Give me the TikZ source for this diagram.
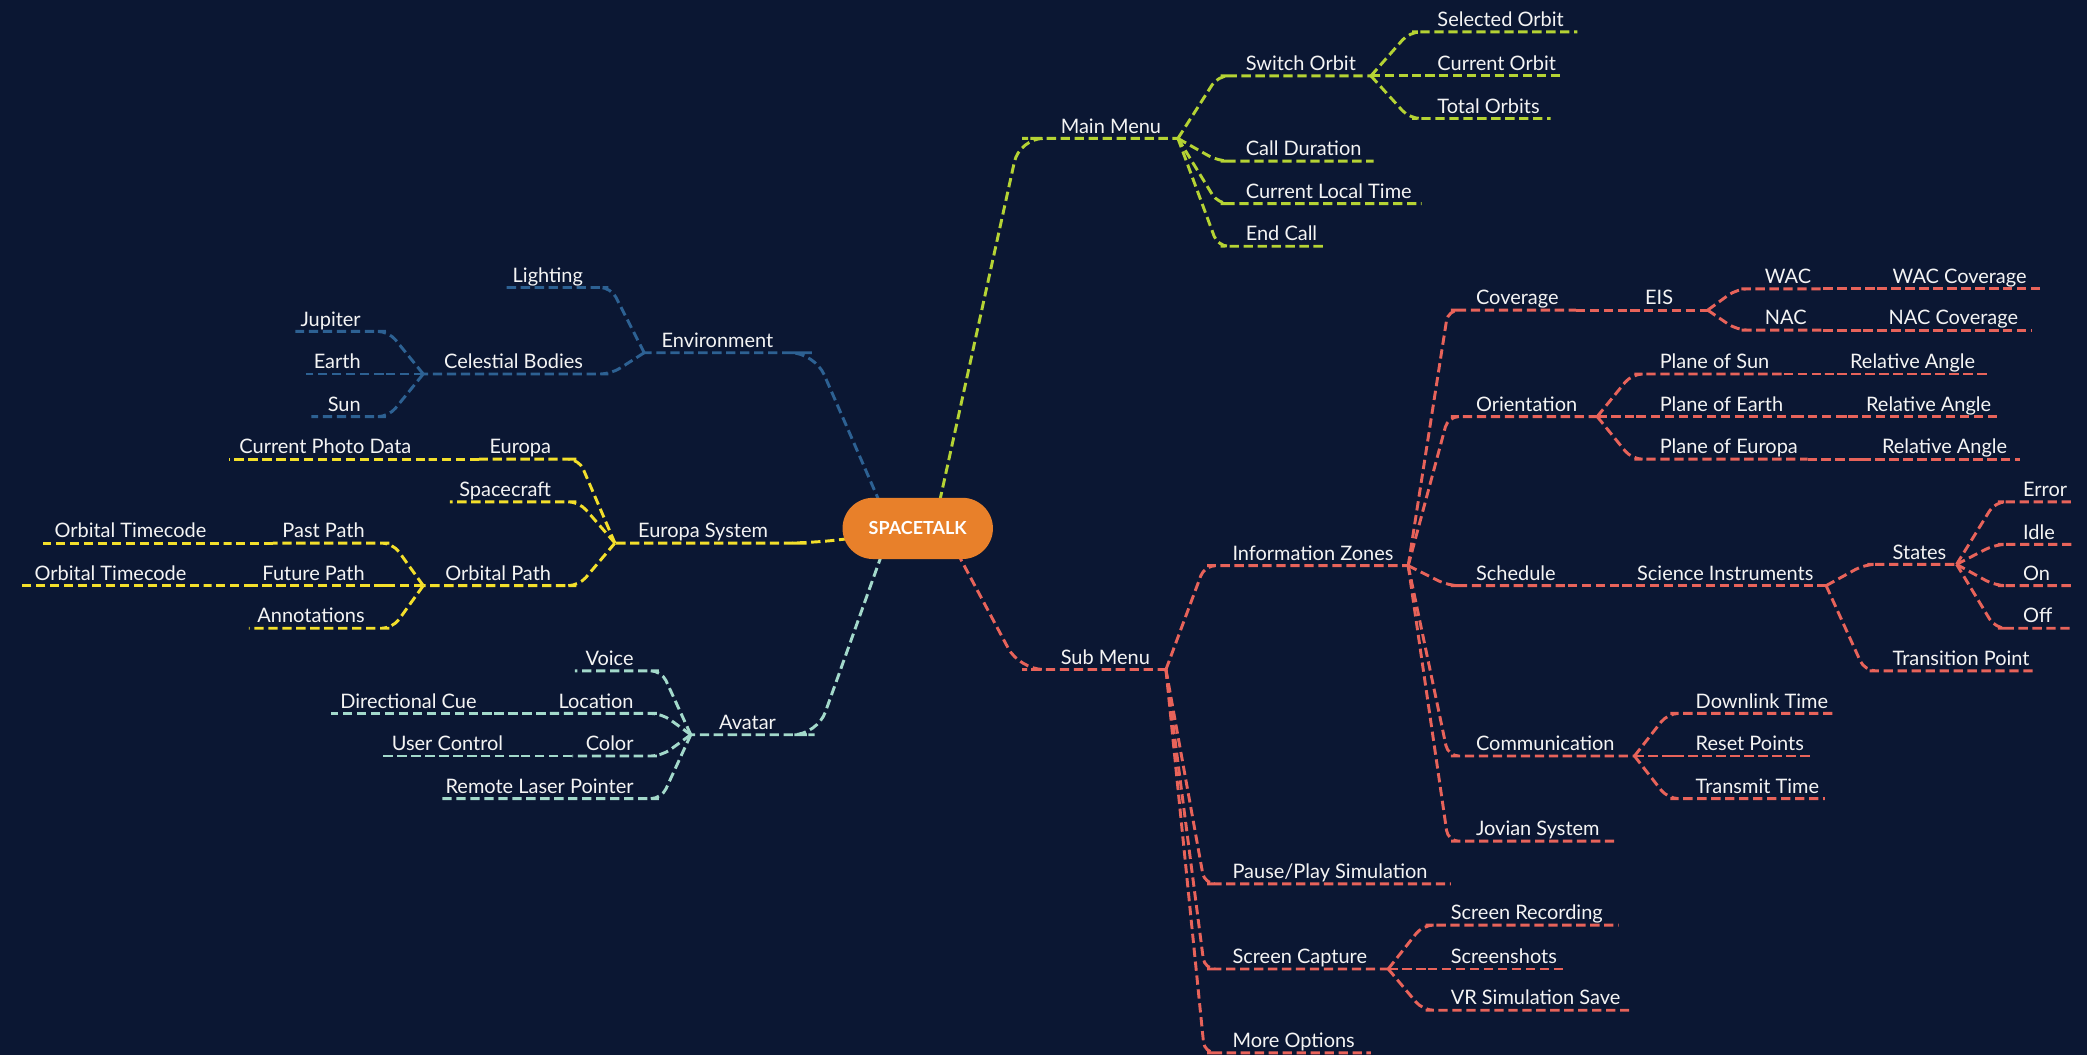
\documentclass[tikz,border=0pt]{standalone}
\usepackage{fontspec}
\setmainfont{Lato}
\definecolor{bgc}{HTML}{0B1733}
\definecolor{cgreen}{HTML}{B5D334}
\definecolor{cblue}{HTML}{2D6193}
\definecolor{cyellow}{HTML}{F3DF2B}
\definecolor{cteal}{HTML}{A3D9CB}
\definecolor{cred}{HTML}{E8635A}
\definecolor{corange}{HTML}{E8802A}
\definecolor{ctext}{HTML}{F4F4F4}
\pgfdeclarelayer{bgfill}
\pgfdeclarelayer{bglines}
\pgfsetlayers{bgfill,bglines,main}
\newcommand\rtxt[2]{\makebox[#1pt][l]{\hspace*{11pt}#2}}
\newcommand\ltxt[2]{\makebox[#1pt][r]{#2\hspace*{11pt}}}
% right-side link: parent east end -> child west end, then along child underline
\newcommand\rlink[3]{\draw[#1] (#2.south east) -- ([xshift=-10pt]#3.south west) -- (#3.south west) -- (#3.south east);}
% left-side link
\newcommand\llink[3]{\draw[#1] (#2.south west) -- ([xshift=10pt]#3.south east) -- (#3.south east) -- (#3.south west);}
\begin{document}
\begin{tikzpicture}[x=1pt,y=-1pt,
  topic/.style={inner xsep=0pt, inner ysep=1pt, text height=12pt, text depth=3pt,
    outer sep=0pt, text=ctext, font=\fontsize{15}{18}\selectfont},
  rtopic/.style={topic, anchor=south west},
  ltopic/.style={topic, anchor=south east},
  link/.style={line width=2.2pt, dash pattern=on 7pt off 3.5pt, rounded corners=8pt},
  glink/.style={link, draw=cgreen},
  blink/.style={link, draw=cblue},
  ylink/.style={link, draw=cyellow},
  tlink/.style={link, draw=cteal},
  rlink/.style={link, draw=cred},
  mainlink/.style={rounded corners=18pt},
  centerbox/.style={fill=corange, rounded corners=23pt, minimum width=113pt,
    minimum height=46pt, text=white, inner sep=0pt,
    font=\fontsize{13.5}{15}\selectfont\bfseries}
]
\begin{pgfonlayer}{bgfill}
\fill[bgc] (0,0) rectangle (1568,793);
\end{pgfonlayer}
\useasboundingbox (0,0) rectangle (1568,793);

% ---------- centre ----------
\node[centerbox] (c) at (689.5,397) {SPACETALK};

% ---------- Main Menu (green) ----------
\node[rtopic] (mm)  at (786,104)  {\rtxt{99}{Main Menu}};
\node[rtopic] (so)  at (925,57)   {\rtxt{105}{Switch Orbit}};
\node[rtopic] (sel) at (1069,24)  {\rtxt{116}{Selected Orbit}};
\node[rtopic] (cur) at (1069,57)  {\rtxt{103}{Current Orbit}};
\node[rtopic] (tot) at (1069,89)  {\rtxt{96}{Total Orbits}};
\node[rtopic] (cd)  at (925,121)  {\rtxt{107}{Call Duration}};
\node[rtopic] (clt) at (925,153)  {\rtxt{143}{Current Local Time}};
\node[rtopic] (ec)  at (925,185)  {\rtxt{72}{End Call}};

% ---------- Sub Menu (red) ----------
\node[rtopic] (sm)   at (786,503)  {\rtxt{90}{Sub Menu}};
\node[rtopic] (iz)   at (915,425)  {\rtxt{143}{Information Zones}};
\node[rtopic] (cov)  at (1098,233) {\rtxt{86}{Coverage}};
\node[rtopic] (eis)  at (1225,233) {\rtxt{58}{EIS}};
\node[rtopic] (wac)  at (1315,217) {\rtxt{55}{WAC}};
\node[rtopic] (wacc) at (1411,217) {\rtxt{124}{WAC Coverage}};
\node[rtopic] (nac)  at (1315,248) {\rtxt{55}{NAC}};
\node[rtopic] (nacc) at (1408,248) {\rtxt{119}{NAC Coverage}};
\node[rtopic] (ori)  at (1098,313) {\rtxt{102}{Orientation}};
\node[rtopic] (pos)  at (1236,281) {\rtxt{104}{Plane of Sun}};
\node[rtopic] (ra1)  at (1379,281) {\rtxt{116}{Relative Angle}};
\node[rtopic] (poe)  at (1236,313) {\rtxt{112}{Plane of Earth}};
\node[rtopic] (ra2)  at (1391,313) {\rtxt{112}{Relative Angle}};
\node[rtopic] (poeu) at (1236,345) {\rtxt{122}{Plane of Europa}};
\node[rtopic] (ra3)  at (1403,345) {\rtxt{115}{Relative Angle}};
\node[rtopic] (sch)  at (1098,440) {\rtxt{80}{Schedule}};
\node[rtopic] (sci)  at (1219,440) {\rtxt{153}{Science Instruments}};
\node[rtopic] (st)   at (1411,424) {\rtxt{59}{States}};
\node[rtopic] (err)  at (1509,377) {\rtxt{48}{Error}};
\node[rtopic] (idle) at (1509,409) {\rtxt{48}{Idle}};
\node[rtopic] (on)   at (1509,440) {\rtxt{48}{On}};
\node[rtopic] (off)  at (1509,472) {\rtxt{48}{Off}};
\node[rtopic] (tp)   at (1411,504) {\rtxt{118}{Transition Point}};
\node[rtopic] (com)  at (1098,568) {\rtxt{130}{Communication}};
\node[rtopic] (dl)   at (1263,536) {\rtxt{117}{Downlink Time}};
\node[rtopic] (rp)   at (1263,568) {\rtxt{99}{Reset Points}};
\node[rtopic] (tt)   at (1263,600) {\rtxt{108}{Transmit Time}};
\node[rtopic] (jov)  at (1098,632) {\rtxt{117}{Jovian System}};
\node[rtopic] (pp)   at (915,664)  {\rtxt{175}{Pause/Play Simulation}};
\node[rtopic] (scap) at (915,728)  {\rtxt{128}{Screen Capture}};
\node[rtopic] (sr)   at (1079,695) {\rtxt{137}{Screen Recording}};
\node[rtopic] (ss)   at (1079,728) {\rtxt{96}{Screenshots}};
\node[rtopic] (vr)   at (1079,759) {\rtxt{145}{VR Simulation Save}};
\node[rtopic] (mo)   at (915,791)  {\rtxt{115}{More Options}};

% ---------- Environment (blue) ----------
\node[ltopic] (env)   at (592,265) {\ltxt{108}{Environment}};
\node[ltopic] (light) at (449,216) {\ltxt{69}{Lighting}};
\node[ltopic] (cb)    at (449,281) {\ltxt{131}{Celestial Bodies}};
\node[ltopic] (jup)   at (282,249) {\ltxt{60}{Jupiter}};
\node[ltopic] (earth) at (282,281) {\ltxt{52}{Earth}};
\node[ltopic] (sun)   at (282,313) {\ltxt{48}{Sun}};

% ---------- Europa System (yellow) ----------
\node[ltopic] (es)   at (588,408) {\ltxt{126}{Europa System}};
\node[ltopic] (eur)  at (425,345) {\ltxt{65}{Europa}};
\node[ltopic] (cpd)  at (320,345) {\ltxt{148}{Current Photo Data}};
\node[ltopic] (sc)   at (425,377) {\ltxt{87}{Spacecraft}};
\node[ltopic] (op)   at (425,440) {\ltxt{107}{Orbital Path}};
\node[ltopic] (past) at (285,408) {\ltxt{80}{Past Path}};
\node[ltopic] (ot1)  at (166,408) {\ltxt{134}{Orbital Timecode}};
\node[ltopic] (fut)  at (285,440) {\ltxt{95}{Future Path}};
\node[ltopic] (ot2)  at (151,440) {\ltxt{135}{Orbital Timecode}};
\node[ltopic] (ann)  at (285,472) {\ltxt{98}{Annotations}};

% ---------- Avatar (teal) ----------
\node[ltopic] (av)    at (594,552) {\ltxt{75}{Avatar}};
\node[ltopic] (voice) at (487,504) {\ltxt{55}{Voice}};
\node[ltopic] (loc)   at (487,536) {\ltxt{77}{Location}};
\node[ltopic] (dc)    at (369,536) {\ltxt{120}{Directional Cue}};
\node[ltopic] (col)   at (487,568) {\ltxt{57}{Color}};
\node[ltopic] (uc)    at (389,568) {\ltxt{101}{User Control}};
\node[ltopic] (rlp)   at (487,600) {\ltxt{157}{Remote Laser Pointer}};

% ---------- main branches (behind the centre box) ----------
\begin{pgfonlayer}{bglines}
\draw[glink, mainlink] ([xshift=12pt]c.center) -- ([xshift=-20pt]mm.south west) -- (mm.south west) -- (mm.south east);
\draw[rlink, mainlink] ([xshift=20pt]c.center) -- ([xshift=-20pt]sm.south west) -- (sm.south west) -- (sm.south east);
\draw[blink, mainlink] ([xshift=-20pt]c.center) -- ([xshift=20pt]env.south east) -- (env.south east) -- (env.south west);
\draw[tlink, mainlink] ([xshift=-20pt]c.center) -- ([xshift=20pt]av.south east) -- (av.south east) -- (av.south west);
\draw[ylink, mainlink] ([yshift=-2pt]c.center) -- ([xshift=20pt]es.south east) -- (es.south east) -- (es.south west);
\end{pgfonlayer}

% ---------- green links ----------
\rlink{glink}{mm}{so}
\rlink{glink}{so}{sel}
\rlink{glink}{so}{cur}
\rlink{glink}{so}{tot}
\rlink{glink}{mm}{cd}
\rlink{glink}{mm}{clt}
\rlink{glink}{mm}{ec}

% ---------- red links ----------
\rlink{rlink}{sm}{iz}
\rlink{rlink}{iz}{cov}
\rlink{rlink}{cov}{eis}
\rlink{rlink}{eis}{wac}
\rlink{rlink}{wac}{wacc}
\rlink{rlink}{eis}{nac}
\rlink{rlink}{nac}{nacc}
\rlink{rlink}{iz}{ori}
\rlink{rlink}{ori}{pos}
\rlink{rlink}{pos}{ra1}
\rlink{rlink}{ori}{poe}
\rlink{rlink}{poe}{ra2}
\rlink{rlink}{ori}{poeu}
\rlink{rlink}{poeu}{ra3}
\rlink{rlink}{iz}{sch}
\rlink{rlink}{sch}{sci}
\rlink{rlink}{sci}{st}
\rlink{rlink}{st}{err}
\rlink{rlink}{st}{idle}
\rlink{rlink}{st}{on}
\rlink{rlink}{st}{off}
\rlink{rlink}{sci}{tp}
\rlink{rlink}{iz}{com}
\rlink{rlink}{com}{dl}
\rlink{rlink}{com}{rp}
\rlink{rlink}{com}{tt}
\rlink{rlink}{iz}{jov}
\rlink{rlink}{sm}{pp}
\rlink{rlink}{sm}{scap}
\rlink{rlink}{scap}{sr}
\rlink{rlink}{scap}{ss}
\rlink{rlink}{scap}{vr}
\rlink{rlink}{sm}{mo}

% ---------- blue links ----------
\llink{blink}{env}{light}
\llink{blink}{env}{cb}
\llink{blink}{cb}{jup}
\llink{blink}{cb}{earth}
\llink{blink}{cb}{sun}

% ---------- yellow links ----------
\llink{ylink}{es}{eur}
\llink{ylink}{eur}{cpd}
\llink{ylink}{es}{sc}
\llink{ylink}{es}{op}
\llink{ylink}{op}{past}
\llink{ylink}{past}{ot1}
\llink{ylink}{op}{fut}
\llink{ylink}{fut}{ot2}
\llink{ylink}{op}{ann}

% ---------- teal links ----------
\llink{tlink}{av}{voice}
\llink{tlink}{av}{loc}
\llink{tlink}{loc}{dc}
\llink{tlink}{av}{col}
\llink{tlink}{col}{uc}
\llink{tlink}{av}{rlp}
\end{tikzpicture}
\end{document}
